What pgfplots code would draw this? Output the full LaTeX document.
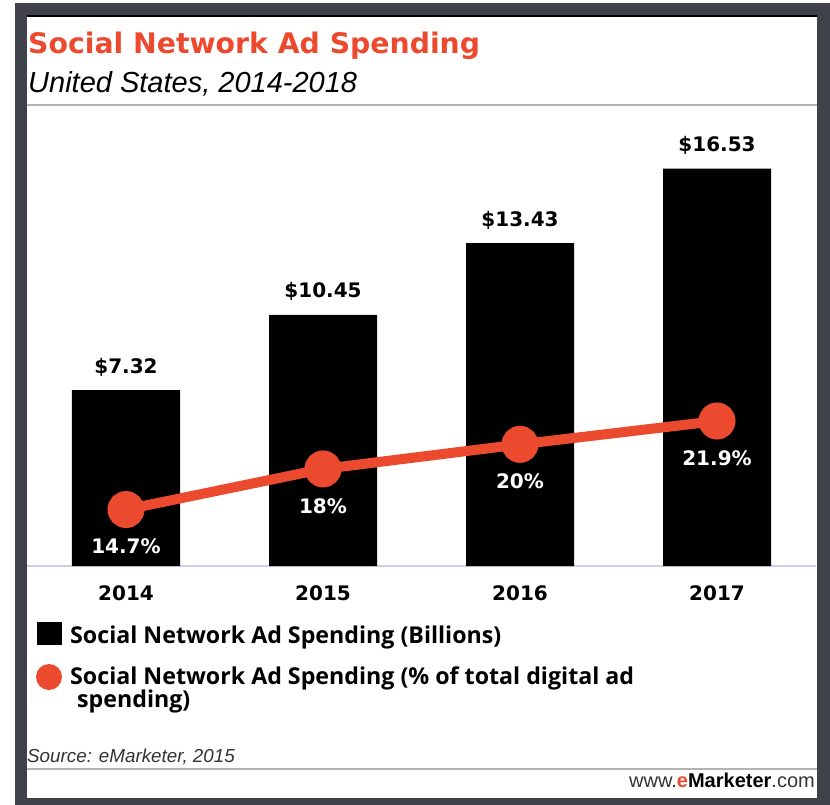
\documentclass[border=0pt]{standalone}
\usepackage{fontspec}
\setmainfont{Liberation Sans}
\newfontfamily\dejavu{DejaVu Sans}
\newfontfamily\opensans{Open Sans}
\usepackage{pgfplots}
\pgfplotsset{compat=1.18}

\definecolor{emred}{HTML}{EC4A2F}
\definecolor{framegray}{HTML}{3F424B}
\definecolor{rulegray}{HTML}{B4B4B4}
\definecolor{basecol}{HTML}{C9D3E3}
\definecolor{srcgray}{HTML}{333333}

\begin{document}
\begin{tikzpicture}
\useasboundingbox (0,0) rectangle (830pt,-805pt);
\fill[white] (0,0) rectangle (830pt,-805pt);
% frame
\fill[framegray] (15pt,-3pt) rectangle (830pt,-805pt);
\fill[white] (27pt,-15pt) rectangle (817pt,-798pt);
\fill[black] (27pt,-15pt) rectangle (817pt,-17pt);
\draw[rulegray, line width=1.5pt] (27pt,-105pt) -- (817pt,-105pt);
\draw[rulegray, line width=1.5pt] (27pt,-769pt) -- (817pt,-769pt);

% titles
\node[anchor=base west, inner sep=0, text=emred, font=\dejavu\bfseries\fontsize{28.3}{34}\selectfont]
  at (28pt,-54pt) {Social Network Ad Spending};
\node[anchor=base west, inner sep=0, font=\itshape\fontsize{29}{34}\selectfont]
  at (28pt,-93pt) {United States, 2014-2018};

% bars (billions)
\begin{axis}[
  at={(27.5pt,-566pt)}, anchor=south west,
  scale only axis, width=788pt, height=436pt,
  xmin=-0.5, xmax=3.5, ymin=0, ymax=18.14,
  axis x line=bottom, axis y line=none,
  x axis line style={-, draw=basecol, line width=1.5pt},
  xtick={0,1,2,3}, xticklabels={2014,2015,2016,2017},
  major tick length=0pt,
  xticklabel style={font=\dejavu\bfseries\fontsize{20}{24}\selectfont, anchor=base, yshift=-34pt},
  ytick=\empty,
  clip=false,
]
\addplot[ybar, bar width=108pt, fill=black, draw=none,
  point meta=explicit symbolic, nodes near coords,
  every node near coord/.style={anchor=center, yshift=23pt, text=black,
    font=\dejavu\bfseries\fontsize{20}{24}\selectfont}]
  coordinates {(0,7.32)[\$7.32] (1,10.45)[\$10.45] (2,13.43)[\$13.43] (3,16.53)[\$16.53]};
\end{axis}

% line (% of total digital ad spending)
\begin{axis}[
  at={(27.5pt,-566pt)}, anchor=south west,
  scale only axis, width=788pt, height=436pt,
  xmin=-0.5, xmax=3.5, ymin=10.11, ymax=45.56,
  hide axis, clip=false,
]
\addplot[emred, line width=10pt, mark=*, mark size=13.5pt,
  mark options={fill=emred, draw=none},
  point meta=explicit symbolic, nodes near coords,
  every node near coord/.style={anchor=center, yshift=-37pt, text=white,
    font=\dejavu\bfseries\fontsize{20}{24}\selectfont}]
  coordinates {(0,14.7)[14.7\%] (1,18)[18\%] (2,20)[20\%] (3,21.9)[21.9\%]};
\end{axis}

% legend
\fill[black] (37pt,-622pt) rectangle (62pt,-645pt);
\fill[emred] (49pt,-677pt) circle (13pt);
\node[anchor=base west, inner sep=0, font=\opensans\bfseries\fontsize{23.2}{27}\selectfont]
  at (70pt,-643pt) {Social Network Ad Spending (Billions)};
\node[anchor=base west, inner sep=0, font=\opensans\bfseries\fontsize{23.2}{27}\selectfont]
  at (70pt,-684pt) {Social Network Ad Spending (\% of total digital ad};
\node[anchor=base west, inner sep=0, font=\opensans\bfseries\fontsize{23.2}{27}\selectfont]
  at (77pt,-707pt) {spending)};

% footer
\node[anchor=base west, inner sep=0, text=srcgray, font=\itshape\fontsize{18.8}{22}\selectfont]
  at (27pt,-762pt) {Source: eMarketer, 2015};
\node[anchor=base east, inner sep=0, text=srcgray, font=\fontsize{20}{24}\selectfont]
  at (815pt,-787pt) {www.{\bfseries\textcolor{emred}{e}\textcolor{black}{Marketer}}.com};
\end{tikzpicture}
\end{document}
